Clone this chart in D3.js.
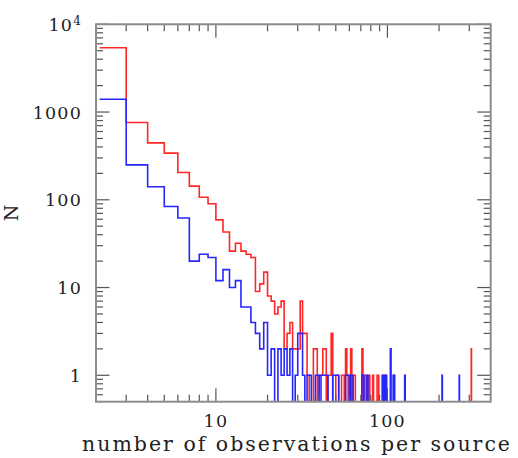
<!DOCTYPE html>
<html>
<head>
<meta charset="utf-8">
<script src="https://cdn.jsdelivr.net/npm/d3@7"></script>
<style>
  html, body { margin: 0; padding: 0; background: #fff; }
  svg { display: block; }
</style>
</head>
<body>
<svg id="chart" width="518" height="458"></svg>
<script>
// ---------------- data ----------------
// counts per integer number of observations n, starting at n = 2 (bin [n, n+1])
const nFirst = 2;
const firstEdge = 2.1;           // left edge where the first bin is drawn
const redCounts = [
  5400, 760, 445, 340, 205, 143, 107, 90, 59,          // n = 2..10
  43, 26, 32, 26, 24, 22, 9, 11, 15, 8,                // n = 11..20
  7, 5, 6, 7, 2, 3, 4, 2, 2, 2,                        // n = 21..30
  7, 3, 3, 1, 0, 0, 2, 2, 0, 1,                        // n = 31..40
  1, 2, 2, 0, 1, 1, 3, 0, 0, 1,                        // n = 41..50
  1, 0, 0, 1, 1, 0, 2, 1, 0, 0,                        // n = 51..60
  2, 0, 1, 1, 0, 0, 0, 0, 0, 0,                        // n = 61..70
  2, 0, 1, 1, 0, 1, 0, 1, 0, 0,                        // n = 71..80
  0, 1, 0, 0, 0, 0, 1, 1, 0, 0,                        // n = 81..90
  0, 0, 1, 0, 0, 0, 1, 0, 0, 0,                        // n = 91..100
  0, 0, 0, 0, 0, 0, 0, 0, 1, 0                         // n = 101..110
];
const redTailN = [308];
const redTailCounts = [2];

const blueCounts = [
  1400, 250, 141, 84, 62, 20, 24, 22, 12,              // n = 2..10
  16, 10, 12, 6, 6, 4, 3, 2, 4, 1,                     // n = 11..20
  2, 0, 2, 1, 2, 1, 2, 0, 1, 3,                        // n = 21..30
  3, 1, 0, 1, 1, 0, 0, 1, 1, 0,                        // n = 31..40
  1, 1, 1, 1, 0, 0, 0, 1, 1, 1,                        // n = 41..50
  1, 0, 0, 0, 0, 0, 1, 1, 1, 0,                        // n = 51..60
  1, 1, 0, 0, 0, 0, 0, 0, 0, 0,                        // n = 61..70
  1, 1, 0, 0, 0, 1, 0, 0, 0, 0,                        // n = 71..80
  0, 0, 0, 0, 0, 0, 0, 0, 0, 0,                        // n = 81..90
  0, 0, 0, 1, 1, 0, 1, 1, 0, 0,                        // n = 91..100
  0, 0, 0, 2, 0, 0, 0, 1, 1, 0                         // n = 101..110
];
const blueTailN = [126, 208, 262];
const blueTailCounts = [1, 1, 1];

const xDomain = [2, 400];
const yDomain = [0.5, 10000];
const xMajorTicks = [10, 100];
const xMajorLabels = ["10", "100"];
const xMinorTicks = [3, 4, 5, 6, 7, 8, 9, 20, 30, 40, 50, 60, 70, 80, 90, 200, 300];
const yMajorTicks = [1, 10, 100, 1000, 10000];
const yMajorLabels = ["1", "10", "100", "1000", "10|4"];
const yMinorTicks = [0.6, 0.7, 0.8, 0.9,
  2, 3, 4, 5, 6, 7, 8, 9, 20, 30, 40, 50, 60, 70, 80, 90,
  200, 300, 400, 500, 600, 700, 800, 900, 2000, 3000, 4000, 5000, 6000, 7000, 8000, 9000];
const xTitle = "number of observations per source";
const yTitle = "N";
const seriesColors = ["#ff2626", "#2626ff"];

// ---------------- layout ----------------
const L = 96, R = 490.7, T = 24.3, B = 401.7;
const svg = d3.select("#chart");
const x = d3.scaleLog().domain(xDomain).range([L, R]).clamp(true);
const y = d3.scaleLog().domain(yDomain).range([B, T]).clamp(true);

svg.append("defs").append("clipPath").attr("id", "plotclip")
  .append("rect").attr("x", L).attr("y", T).attr("width", R - L).attr("height", B - T);

function buildSeries(dense, tailN, tailC) {
  const m = new Map();
  dense.forEach((c, i) => m.set(nFirst + i, c));
  tailN.forEach((n, i) => m.set(n, tailC[i]));
  const pts = [];
  for (let n = nFirst; n <= xDomain[1]; n++) {
    const c = m.get(n) || 0;
    pts.push({ n: n === nFirst ? firstEdge : n, c });
  }
  pts.push({ n: xDomain[1] + 1, c: 0 });
  return pts;
}

const line = d3.line()
  .x(d => x(d.n))
  .y(d => d.c > 0 ? y(d.c) : y(yDomain[0]) + 2)
  .curve(d3.curveStepAfter);

const g = svg.append("g").attr("clip-path", "url(#plotclip)");
[[redCounts, redTailN, redTailCounts], [blueCounts, blueTailN, blueTailCounts]].forEach((s, i) => {
  g.append("path")
    .datum(buildSeries(s[0], s[1], s[2]))
    .attr("d", line)
    .attr("fill", "none")
    .attr("stroke", seriesColors[i])
    .attr("stroke-width", 1.6)
    .attr("stroke-linejoin", "miter");
});

// ---------------- ticks ----------------
const tickColor = "#555";
const axes = svg.append("g");
const majLen = 13.5, minLen = 7;
function xt(vals, len) {
  vals.forEach(v => {
    axes.append("line").attr("x1", x(v)).attr("x2", x(v)).attr("y1", B).attr("y2", B - len)
      .attr("stroke", tickColor).attr("stroke-width", 1.2);
    axes.append("line").attr("x1", x(v)).attr("x2", x(v)).attr("y1", T).attr("y2", T + len)
      .attr("stroke", tickColor).attr("stroke-width", 1.2);
  });
}
function yt(vals, len) {
  vals.forEach(v => {
    axes.append("line").attr("y1", y(v)).attr("y2", y(v)).attr("x1", L).attr("x2", L + len)
      .attr("stroke", tickColor).attr("stroke-width", 1.2);
    axes.append("line").attr("y1", y(v)).attr("y2", y(v)).attr("x1", R).attr("x2", R - len)
      .attr("stroke", tickColor).attr("stroke-width", 1.2);
  });
}
xt(xMinorTicks, minLen); xt(xMajorTicks, majLen);
yt(yMinorTicks, minLen); yt(yMajorTicks, majLen);

// frame
svg.append("rect").attr("x", L).attr("y", T).attr("width", R - L).attr("height", B - T)
  .attr("fill", "none").attr("stroke", "#8c8c8c").attr("stroke-width", 2);

// ---------------- labels ----------------
const font = "'DejaVu Serif', serif";
const txtColor = "#222";
yMajorTicks.forEach((v, i) => {
  const parts = yMajorLabels[i].split("|");
  const t = svg.append("text")
    .attr("x", 82).attr("y", y(v) + 6.5)
    .attr("text-anchor", "end")
    .attr("font-family", font).attr("font-size", 17.5)
    .attr("letter-spacing", 1.2)
    .attr("fill", txtColor);
  t.append("tspan").text(parts[0]);
  if (parts[1]) {
    t.append("tspan").attr("dy", -6).attr("font-size", 12).text(parts[1]);
  }
});
xMajorTicks.forEach((v, i) => {
  svg.append("text")
    .attr("x", x(v)).attr("y", 427)
    .attr("text-anchor", "middle")
    .attr("font-family", font).attr("font-size", 17.5)
    .attr("letter-spacing", 1.2)
    .attr("fill", txtColor)
    .text(xMajorLabels[i]);
});
svg.append("text")
  .attr("x", 296).attr("y", 450.5)
  .attr("text-anchor", "middle")
  .attr("font-family", font).attr("font-size", 20.5)
  .attr("textLength", 428).attr("lengthAdjust", "spacing")
  .attr("fill", txtColor)
  .text(xTitle);
svg.append("text")
  .attr("transform", `translate(17.5, ${(T + B) / 2}) rotate(-90)`)
  .attr("text-anchor", "middle")
  .attr("font-family", font).attr("font-size", 19)
  .attr("fill", txtColor)
  .text(yTitle);
</script>
</body>
</html>
